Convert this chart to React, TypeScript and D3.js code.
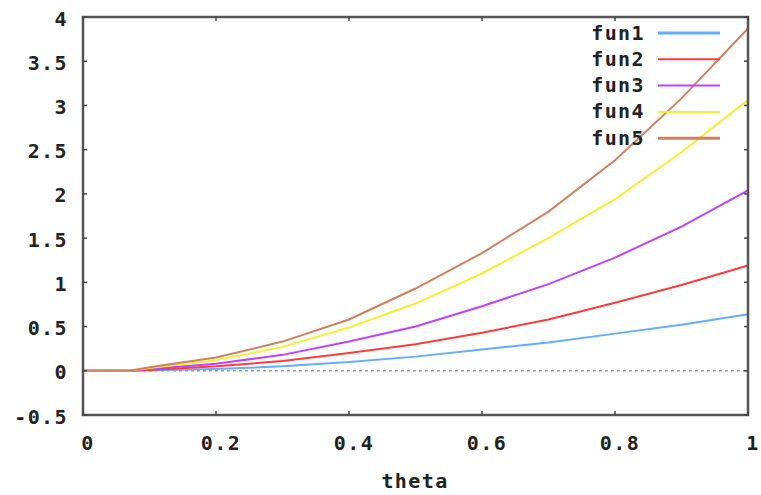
import React, { useEffect, useRef } from "react";
import * as d3 from "d3";

// theta samples and the five curves
const theta = [0, 0.07, 0.1, 0.2, 0.3, 0.4, 0.5, 0.6, 0.7, 0.8, 0.9, 1];
const fun1 = [0, 0, 0.005, 0.02, 0.05, 0.1, 0.16, 0.24, 0.32, 0.42, 0.52, 0.64];
const fun2 = [0, 0, 0.01, 0.05, 0.11, 0.2, 0.3, 0.43, 0.58, 0.77, 0.97, 1.19];
const fun3 = [0, 0, 0.02, 0.08, 0.18, 0.33, 0.5, 0.73, 0.98, 1.28, 1.63, 2.04];
const fun4 = [0, 0, 0.03, 0.12, 0.27, 0.49, 0.76, 1.1, 1.5, 1.94, 2.47, 3.06];
const fun5 = [0, 0, 0.04, 0.15, 0.33, 0.58, 0.93, 1.33, 1.8, 2.38, 3.08, 3.87];

const seriesNames = ["fun1", "fun2", "fun3", "fun4", "fun5"];
const seriesValues = [fun1, fun2, fun3, fun4, fun5];
const colors = ["#62adff", "#ff3a3a", "#c040ff", "#f2f030", "#d0815c"];

const yTicks = [-0.5, 0, 0.5, 1, 1.5, 2, 2.5, 3, 3.5, 4];
const xTicks = [0, 0.2, 0.4, 0.6, 0.8, 1];

export default function App() {
  const ref = useRef<SVGSVGElement>(null);

  useEffect(() => {
    const svg = d3.select(ref.current);
    svg.selectAll("*").remove();

    const left = 83, right = 748, top = 17, bottom = 415;
    const font = "'DejaVu Sans Mono', monospace";

    const x = d3.scaleLinear().domain([0, 1]).range([left, right]);
    const y = d3.scaleLinear().domain([-0.5, 4]).range([bottom, top]);

    const label = (sel: any) =>
      sel
        .style("font-family", font)
        .style("font-weight", "bold")
        .style("font-size", "20px")
        .style("letter-spacing", "1.4px")
        .attr("dominant-baseline", "middle")
        .attr("fill", "#222");

    // zero line
    svg
      .append("line")
      .attr("x1", left)
      .attr("x2", right)
      .attr("y1", y(0))
      .attr("y2", y(0))
      .attr("stroke", "#999")
      .attr("stroke-width", 1.5)
      .attr("stroke-dasharray", "3,3");

    // curves
    const line = d3
      .line<number>()
      .x((d, i) => x(theta[i]))
      .y((d) => y(d));

    seriesValues.forEach((vals, k) => {
      svg
        .append("path")
        .attr("d", line(vals))
        .attr("fill", "none")
        .attr("stroke", colors[k])
        .attr("stroke-width", 2);
    });

    // frame
    svg
      .append("rect")
      .attr("x", left)
      .attr("y", top)
      .attr("width", right - left)
      .attr("height", bottom - top)
      .attr("fill", "none")
      .attr("stroke", "#555")
      .attr("stroke-width", 2.5);

    // y ticks (mirrored)
    const ty = svg.append("g");
    yTicks.forEach((t) => {
      ty.append("line").attr("x1", left).attr("x2", left + 4).attr("y1", y(t)).attr("y2", y(t)).attr("stroke", "#444").attr("stroke-width", 1.5);
      ty.append("line").attr("x1", right - 4).attr("x2", right).attr("y1", y(t)).attr("y2", y(t)).attr("stroke", "#444").attr("stroke-width", 1.5);
      ty.append("text")
        .attr("x", 68)
        .attr("y", y(t) + 3)
        .attr("text-anchor", "end")
        .call(label)
        .text(String(t));
    });

    // x ticks (mirrored)
    const tx = svg.append("g");
    xTicks.forEach((t) => {
      tx.append("line").attr("x1", x(t)).attr("x2", x(t)).attr("y1", bottom).attr("y2", bottom - 4).attr("stroke", "#444").attr("stroke-width", 1.5);
      tx.append("line").attr("x1", x(t)).attr("x2", x(t)).attr("y1", top).attr("y2", top + 4).attr("stroke", "#444").attr("stroke-width", 1.5);
      tx.append("text")
        .attr("x", x(t) + 5)
        .attr("y", 444)
        .attr("text-anchor", "middle")
        .call(label)
        .text(String(t));
    });

    svg
      .append("text")
      .attr("x", 415)
      .attr("y", 482)
      .attr("text-anchor", "middle")
      .call(label)
      .text("theta");

    // legend
    const legend = svg.append("g");
    seriesNames.forEach((name, k) => {
      const ly = 33 + k * 26.3;
      legend
        .append("text")
        .attr("x", 645)
        .attr("y", ly + 1)
        .attr("text-anchor", "end")
        .call(label)
        .text(name);
      legend
        .append("line")
        .attr("x1", 658)
        .attr("x2", 720)
        .attr("y1", ly)
        .attr("y2", ly)
        .attr("stroke", colors[k])
        .attr("stroke-width", k === 0 || k === 4 ? 3 : 2);
    });
  }, []);

  return (
    <svg
      ref={ref}
      width={761}
      height={495}
      style={{ position: "absolute", left: 0, top: 0, background: "#fff" }}
    />
  );
}
